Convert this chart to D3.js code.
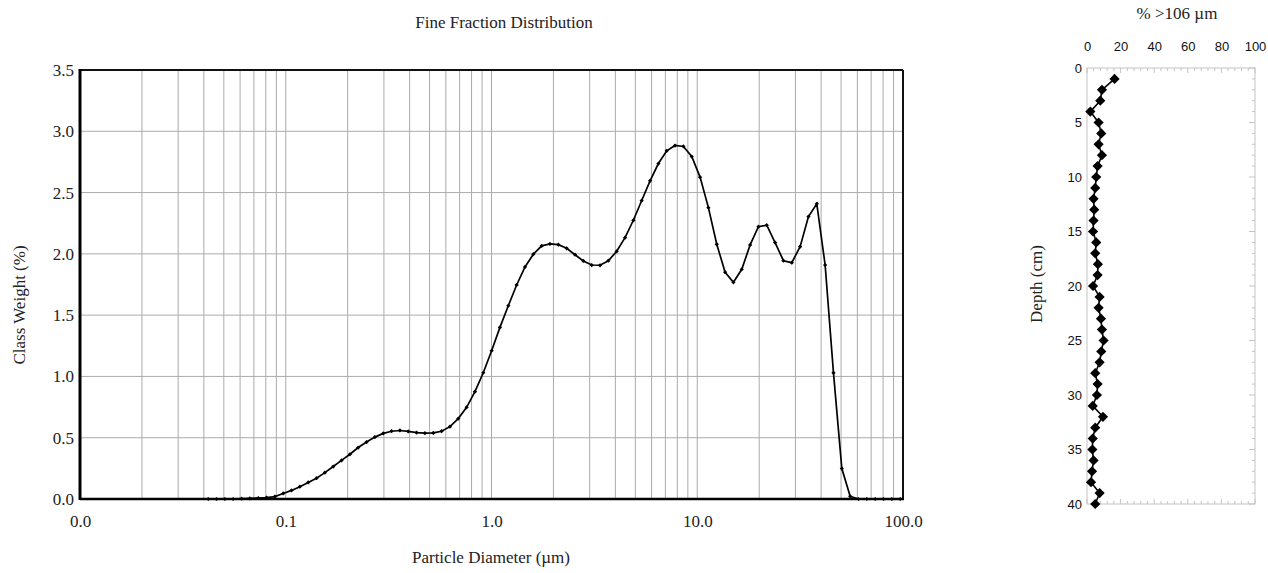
<!DOCTYPE html>
<html><head><meta charset="utf-8">
<script src="https://cdn.jsdelivr.net/npm/d3@7"></script>
<style>body{margin:0;background:#fff} svg{display:block}</style>
</head><body><svg id="c" width="1268" height="573"></svg>
<script>
// ---- Left chart data: particle size distribution ----
const diameters = [0.0420,0.0461,0.0506,0.0555,0.0610,0.0669,0.0735,0.0806,0.0885,0.0972,
  0.1067,0.1171,0.1286,0.1411,0.1549,0.1701,0.1867,0.2050,0.2250,0.2470,
  0.2712,0.2977,0.3268,0.3588,0.3939,0.4324,0.4747,0.5211,0.5721,0.6280,
  0.6894,0.7569,0.8309,0.9121,1.0013,1.099,1.207,1.325,1.455,1.597,
  1.753,1.924,2.113,2.319,2.546,2.795,3.068,3.369,3.698,4.060,
  4.457,4.893,5.371,5.897,6.473,7.106,7.801,8.565,9.402,10.32,
  11.33,12.44,13.66,14.99,16.46,18.07,19.83,21.77,23.90,26.24,
  28.81,31.62,34.72,38.11,41.84,45.93,50.43,55.36,60.77,66.72,
  73.24,80.41,88.27,96.90];
const classWeight = [0,0,0,0,0.003,0.005,0.008,0.012,0.02,0.045,
  0.07,0.10,0.135,0.17,0.215,0.265,0.315,0.365,0.42,0.465,
  0.505,0.535,0.553,0.559,0.551,0.542,0.537,0.539,0.553,0.59,
  0.656,0.748,0.876,1.03,1.21,1.40,1.577,1.746,1.893,1.997,
  2.065,2.081,2.075,2.045,1.993,1.942,1.909,1.907,1.944,2.021,
  2.132,2.274,2.435,2.596,2.737,2.841,2.884,2.876,2.794,2.626,
  2.377,2.078,1.850,1.768,1.874,2.073,2.222,2.234,2.092,1.944,
  1.928,2.059,2.304,2.408,1.909,1.029,0.248,0.022,0,0,
  0,0,0,0];
const xTickValues = [0.01,0.1,1,10,100];
const yTickValues = [0,0.5,1,1.5,2,2.5,3,3.5];

// ---- Right chart data: % > 106 µm vs depth ----
const depths = [1,2,3,4,5,6,7,8,9,10,11,12,13,14,15,16,17,18,19,20,
  21,22,23,24,25,26,27,28,29,30,31,32,33,34,35,36,37,38,39,40];
const coarsePct = [16.4,8.9,7.9,2.0,6.9,8.5,6.9,8.9,6.3,5.5,
  4.9,3.9,4.3,3.9,3.6,5.5,4.9,6.5,6.3,3.6,
  7.5,6.9,8.3,8.9,9.9,8.5,7.5,4.9,6.3,5.9,
  3.4,9.5,4.9,3.4,3.2,3.9,3.0,2.4,7.5,4.9];
const rxTickValues = [0,20,40,60,80,100];
const ryTickValues = [0,5,10,15,20,25,30,35,40];

const svg = d3.select('#c');
const serif = '"Liberation Serif","Times New Roman",serif';
const sans = '"Liberation Sans",Arial,sans-serif';

// ================= LEFT CHART =================
const L = {left:80, right:903, top:70, bottom:499};
const x = d3.scaleLog().domain([0.01,100]).range([L.left,L.right]);
const y = d3.scaleLinear().domain([0,3.5]).range([L.bottom,L.top]);

const gridX = [];
[0.01,0.1,1,10].forEach(d=>{ for(let k=2;k<=10;k++) gridX.push(d*k); });
const g = svg.append('g');
g.selectAll('line.vx').data(gridX.filter(v=>v<100)).enter().append('line')
  .attr('x1',d=>x(d)).attr('x2',d=>x(d)).attr('y1',L.top).attr('y2',L.bottom)
  .attr('stroke','#ababab').attr('stroke-width',1);
g.selectAll('line.hy').data(yTickValues.filter(v=>v>0&&v<3.5)).enter().append('line')
  .attr('x1',L.left).attr('x2',L.right).attr('y1',d=>y(d)).attr('y2',d=>y(d))
  .attr('stroke','#ababab').attr('stroke-width',1);

// frame
g.append('line').attr('x1',L.left).attr('x2',L.right).attr('y1',L.top).attr('y2',L.top).attr('stroke','#111').attr('stroke-width',2);
g.append('line').attr('x1',L.right).attr('x2',L.right).attr('y1',L.top).attr('y2',L.bottom).attr('stroke','#111').attr('stroke-width',2);
g.append('line').attr('x1',L.left).attr('x2',L.right+1).attr('y1',L.bottom).attr('y2',L.bottom).attr('stroke','#000').attr('stroke-width',2.5);
g.append('line').attr('x1',L.left).attr('x2',L.left).attr('y1',L.top-1).attr('y2',L.bottom+1).attr('stroke','#000').attr('stroke-width',3);

// axes labels
const xa = svg.append('g').attr('transform',`translate(0,${L.bottom})`)
  .call(d3.axisBottom(x).tickValues(xTickValues).tickFormat(d3.format('.1f')).tickSize(0).tickPadding(16));
xa.select('.domain').remove();
xa.selectAll('text').attr('font-family',serif).attr('font-size',17).attr('fill','#222');
const ya = svg.append('g').attr('transform',`translate(${L.left},0)`)
  .call(d3.axisLeft(y).tickValues(yTickValues).tickFormat(d3.format('.1f')).tickSize(0).tickPadding(6));
ya.select('.domain').remove();
ya.selectAll('text').attr('font-family',serif).attr('font-size',17).attr('fill','#222');

// line + markers
const line = d3.line().x((d,i)=>x(diameters[i])).y(d=>y(d));
g.append('path').datum(classWeight).attr('d',line).attr('fill','none').attr('stroke','#000').attr('stroke-width',1.7);
g.selectAll('path.m').data(classWeight).enter().append('path')
  .attr('d',d3.symbol(d3.symbolSquare,9))
  .attr('transform',(d,i)=>`translate(${x(diameters[i])},${y(d)}) rotate(45)`).attr('fill','#000');

// titles
svg.append('text').attr('x',504).attr('y',28).attr('text-anchor','middle')
  .attr('font-family',serif).attr('font-size',17).attr('fill','#222').text('Fine Fraction Distribution');
svg.append('text').attr('x',491).attr('y',563).attr('text-anchor','middle')
  .attr('font-family',serif).attr('font-size',17).attr('fill','#222').text('Particle Diameter (µm)');
svg.append('text').attr('transform','translate(25,305) rotate(-90)').attr('text-anchor','middle')
  .attr('font-family',serif).attr('font-size',17).attr('fill','#222').text('Class Weight (%)');

// ================= RIGHT CHART =================
const R = {left:1087, right:1255, top:68, bottom:504};
const rx = d3.scaleLinear().domain([0,100]).range([R.left,R.right]);
const ry = d3.scaleLinear().domain([0,40]).range([R.top,R.bottom]);
const rg = svg.append('g');
const boxCol = '#c4c4c4';
rg.append('rect').attr('x',R.left).attr('y',R.top).attr('width',R.right-R.left).attr('height',R.bottom-R.top)
  .attr('fill','none').attr('stroke',boxCol).attr('stroke-width',1);

// minor ticks (inward)
const rxMinor = d3.range(0,101,4);
rg.selectAll('line.tt').data(rxMinor).enter().append('line')
  .attr('x1',d=>rx(d)).attr('x2',d=>rx(d)).attr('y1',R.top).attr('y2',d=>R.top+(d%20===0?5:3))
  .attr('stroke',boxCol);
rg.selectAll('line.tb').data(rxMinor).enter().append('line')
  .attr('x1',d=>rx(d)).attr('x2',d=>rx(d)).attr('y1',R.bottom).attr('y2',d=>R.bottom-(d%20===0?5:3))
  .attr('stroke',boxCol);
const ryMinor = d3.range(0,41,1);
rg.selectAll('line.tr').data(ryMinor).enter().append('line')
  .attr('y1',d=>ry(d)).attr('y2',d=>ry(d)).attr('x1',R.right).attr('x2',d=>R.right-(d%5===0?6:3))
  .attr('stroke',boxCol);

const rxa = svg.append('g').attr('transform',`translate(0,${R.top})`)
  .call(d3.axisTop(rx).tickValues(rxTickValues).tickSize(0).tickPadding(17));
rxa.select('.domain').remove();
rxa.selectAll('text').attr('font-family',sans).attr('font-size',13).attr('fill','#111');
const rya = svg.append('g').attr('transform',`translate(${R.left},0)`)
  .call(d3.axisLeft(ry).tickValues(ryTickValues).tickSize(0).tickPadding(5));
rya.select('.domain').remove();
rya.selectAll('text').attr('font-family',sans).attr('font-size',13).attr('fill','#111');

const rline = d3.line().x(d=>rx(d)).y((d,i)=>ry(depths[i]));
rg.append('path').datum(coarsePct).attr('d',rline).attr('fill','none').attr('stroke','#000').attr('stroke-width',1.6);
rg.selectAll('path.rm').data(coarsePct).enter().append('path')
  .attr('d',d3.symbol(d3.symbolSquare,52))
  .attr('transform',(d,i)=>`translate(${rx(d)},${ry(depths[i])}) rotate(45)`).attr('fill','#000');

svg.append('text').attr('x',1177).attr('y',19).attr('text-anchor','middle')
  .attr('font-family',serif).attr('font-size',17).attr('fill','#222').text('% >106 µm');
svg.append('text').attr('transform','translate(1042,284) rotate(-90)').attr('text-anchor','middle')
  .attr('font-family',serif).attr('font-size',17).attr('fill','#222').text('Depth (cm)');
</script></body></html>
